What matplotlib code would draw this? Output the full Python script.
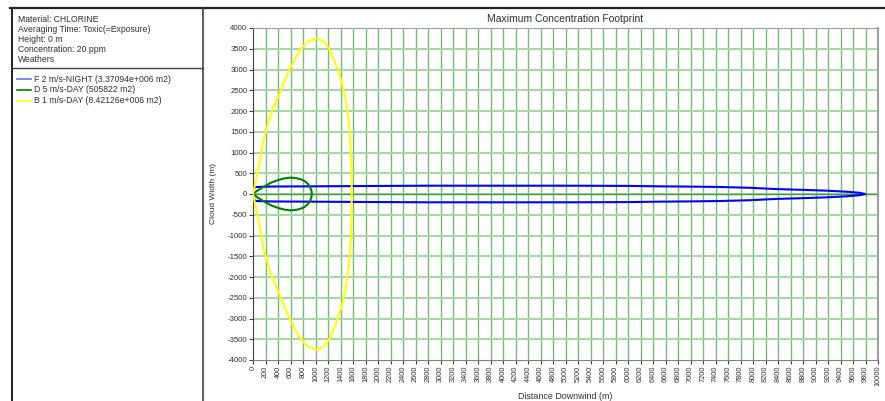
import numpy as np
import matplotlib
matplotlib.use("Agg")
import matplotlib.pyplot as plt
from matplotlib.lines import Line2D

plt.rcParams["font.family"] = ["Liberation Sans", "DejaVu Sans"]

W, H = 885, 401

# footprint half-widths (m) vs downwind distance (m)
f2_x = [0, 0, 20, 60, 300, 1000, 1500, 2800, 5000, 6000, 6500, 7000, 7440, 7950, 8350, 8800, 9180, 9500, 9700, 9800]
f2_y = [0, 130, 150, 170, 180, 185, 190, 200, 200, 195, 185, 178, 170, 150, 120, 100, 80, 55, 30, 0]

d5_x = [0, 50, 100, 200, 272, 300, 400, 500, 592, 700, 780, 832, 880, 915, 935, 940]
d5_y = [0, 60, 110, 200, 258, 280, 335, 375, 395, 380, 345, 305, 240, 160, 80, 0]

b1_x = [0, 112, 165, 280, 405, 500, 603, 752, 880, 1019, 1130, 1232, 1339, 1420, 1483, 1530, 1560, 1575, 1580]
b1_y = [0, 819, 1300, 1900, 2345, 2700, 3067, 3470, 3680, 3752, 3680, 3470, 3067, 2700, 2265, 1800, 1200, 600, 0]

series_names = ["F 2 m/s-NIGHT (3.37094e+006 m2)",
                "D 5 m/s-DAY (505822 m2)",
                "B 1 m/s-DAY (8.42126e+006 m2)"]
series_colors = ["#0000ff", "#008000", "#ffff00"]

info_lines = ["Material: CHLORINE",
              "Averaging Time: Toxic(=Exposure)",
              "Height: 0 m",
              "Concentration: 20 ppm",
              "Weathers"]

x_ticks = list(range(0, 10001, 200))
y_ticks = list(range(-4000, 4001, 500))


def fx(px):
    return px / W


def fy(py):
    return 1 - py / H


def outline(xs, ys):
    # close the footprint: upper edge out, lower edge back
    xs = np.array(xs, float)
    ys = np.array(ys, float)
    return np.concatenate([xs, xs[::-1]]), np.concatenate([ys, -ys[::-1]])


fig = plt.figure(figsize=(W / 100, H / 100), dpi=100)
fig.patch.set_facecolor("white")

# panel frame
fig.add_artist(Line2D([fx(10), 1], [fy(8), fy(8)], color="#202020", lw=1.6))
fig.add_artist(Line2D([fx(11.5), fx(11.5)], [fy(8), 0], color="#202020", lw=1.4))
fig.add_artist(Line2D([fx(203), fx(203)], [fy(8), 0], color="#404040", lw=1.2))
fig.add_artist(Line2D([fx(11.5), fx(203)], [fy(68), fy(68)], color="#404040", lw=1.0))

for i, t in enumerate(info_lines):
    fig.text(fx(18), fy(20 + 9.8 * i), t, fontsize=6.2, color="#303030", va="center")

for i, (name, c) in enumerate(zip(series_names, series_colors)):
    yy = fy(79 + 10.8 * i)
    lc = "#6a6aff" if i == 0 else c
    fig.add_artist(Line2D([fx(17), fx(31)], [yy, yy], color=lc, lw=1.2))
    fig.text(fx(33.5), yy, name, fontsize=6.2, color="#303030", va="center")

ax = fig.add_axes([fx(253), fy(360), fx(878) - fx(253), fy(28) - fy(360)])
ax.set_xlim(0, 10000)
ax.set_ylim(-4000, 4000)
ax.set_xticks(x_ticks)
ax.set_yticks(y_ticks)
ax.set_xticklabels([str(v) for v in x_ticks], rotation=90, fontsize=5.3, color="#303030")
ax.set_yticklabels([str(v) for v in y_ticks], fontsize=5.6, color="#303030")
ax.tick_params(length=3, width=0.8, color="#404040", pad=1)

for v in x_ticks[1:-1]:
    ax.axvline(v, color="#72bd72", lw=1.0, zorder=1)
for v in y_ticks[1:-1]:
    ax.axhline(v, color="#a6d6a6", lw=1.4, zorder=1)
ax.axhline(0, color="#3c9c3c", lw=1.0, zorder=1)

for xs, ys, c in zip([f2_x, d5_x, b1_x], [f2_y, d5_y, b1_y], series_colors):
    px, py = outline(xs, ys)
    ax.plot(px, py, color=c, lw=1.5, zorder=3)

ax.spines["left"].set_color("#404040")
ax.spines["bottom"].set_color("#808080")
ax.spines["top"].set_color("#a0a0a0")
ax.spines["right"].set_color("#a0a0a0")
ax.spines["right"].set_linewidth(1.5)

ax.set_title("Maximum Concentration Footprint", fontsize=7.5, color="#303030", pad=4)
ax.set_xlabel("Distance Downwind (m)", fontsize=6.4, color="#303030", labelpad=4)
ax.set_ylabel("Cloud Width (m)", fontsize=6.0, color="#303030", labelpad=8)

fig.savefig("out.png", dpi=100)
